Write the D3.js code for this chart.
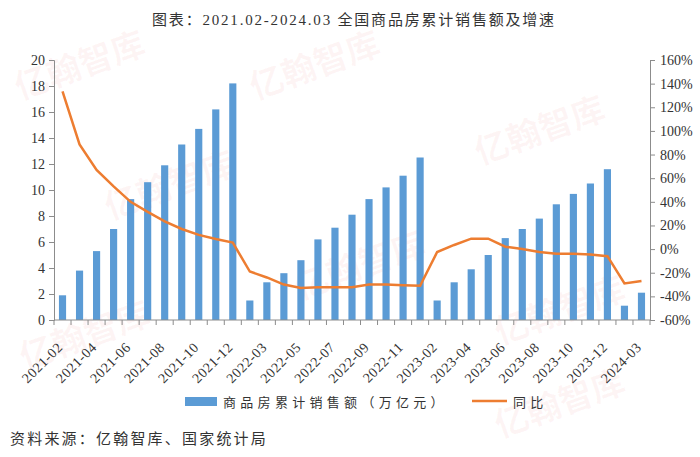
<!DOCTYPE html>
<html>
<head>
<meta charset="utf-8">
<script src="https://cdn.jsdelivr.net/npm/d3@7"></script>
<style>
  body { margin: 0; background: #fff; }
  svg text { font-family: "Liberation Serif", "Noto Sans CJK SC", serif; fill: #333; }
</style>
</head>
<body>
<div class="chart"></div>
<script>
// months shown on the x axis (Jan is merged into Feb each year)
var months = ["2021-02","2021-03","2021-04","2021-05","2021-06","2021-07","2021-08","2021-09","2021-10","2021-11","2021-12",
              "2022-02","2022-03","2022-04","2022-05","2022-06","2022-07","2022-08","2022-09","2022-10","2022-11","2022-12",
              "2023-02","2023-03","2023-04","2023-05","2023-06","2023-07","2023-08","2023-09","2023-10","2023-11","2023-12",
              "2024-02","2024-03"];
// cumulative sales, trillion yuan
var sales = [1.9, 3.8, 5.3, 7.0, 9.3, 10.6, 11.9, 13.5, 14.7, 16.2, 18.2,
             1.5, 2.9, 3.6, 4.6, 6.2, 7.1, 8.1, 9.3, 10.2, 11.1, 12.5,
             1.5, 2.9, 3.9, 5.0, 6.3, 7.0, 7.8, 8.9, 9.7, 10.5, 11.6,
             1.1, 2.1];
// year-on-year growth, %
var yoy = [133.4, 88.5, 67, 53, 40, 31.5, 23.5, 17, 12, 8.5, 5.5,
           -19, -24, -30, -33, -32.3, -32.3, -32.3, -30, -30, -30.5, -31,
           -2.5, 3.5, 8.8, 8.8, 2, 0, -2.5, -4, -4, -4.5, -6,
           -29, -27];
var leftTicks = [0, 2, 4, 6, 8, 10, 12, 14, 16, 18, 20];
var rightTicks = [-60, -40, -20, 0, 20, 40, 60, 80, 100, 120, 140, 160];

var W = 700, H = 457;
var margin = {top: 60, right: 50, bottom: 137, left: 54};
var w = W - margin.left - margin.right,
    h = H - margin.top - margin.bottom;

var svg = d3.select('.chart').append('svg')
  .attr('width', W)
  .attr('height', H);

// faint watermarks
var marks = [[20, 100], [255, 100], [480, 165], [110, 220], [300, 300], [500, 345], [25, 370], [500, 438]];
svg.append('g').selectAll('text')
  .data(marks)
  .enter().append('text')
  .attr('transform', function(d) { return 'translate(' + d[0] + ',' + d[1] + ') rotate(-20)'; })
  .style('font-family', '"Noto Sans CJK SC", sans-serif')
  .style('font-size', '34px')
  .style('font-weight', 'bold')
  .style('fill', 'rgba(225,90,90,0.06)')
  .text('亿翰智库');

svg.append('text')
  .attr('x', 354).attr('y', 25)
  .attr('text-anchor', 'middle')
  .style('font-size', '15px')
  .style('letter-spacing', '1.8px')
  .text('图表：2021.02-2024.03 全国商品房累计销售额及增速');

var g = svg.append('g')
  .attr('transform', 'translate(' + margin.left + ',' + margin.top + ')');

var x = d3.scaleBand()
  .domain(months)
  .range([0, w])
  .paddingInner(0.58)
  .paddingOuter(0.29);

var y = d3.scaleLinear().domain([0, 20]).range([h, 0]);
var y2 = d3.scaleLinear().domain([-60, 160]).range([h, 0]);

// bars
g.selectAll('.bar')
  .data(sales)
  .enter().append('rect')
  .attr('class', 'bar')
  .attr('x', function(d, i) { return x(months[i]); })
  .attr('width', x.bandwidth())
  .attr('y', function(d) { return y(d); })
  .attr('height', function(d) { return h - y(d); })
  .attr('fill', '#5b9bd5');

// line
g.append('path')
  .datum(yoy)
  .attr('d', d3.line()
    .x(function(d, i) { return x(months[i]) + x.bandwidth() / 2; })
    .y(function(d) { return y2(d); }))
  .attr('fill', 'none')
  .attr('stroke', '#ed7d31')
  .attr('stroke-width', 2.5);

// axes
var axisColor = '#8c8c8c';
var step = x.step();

var gl = g.append('g')
  .call(d3.axisLeft(y).tickValues(leftTicks).tickSize(5).tickPadding(4));
var gr = g.append('g')
  .attr('transform', 'translate(' + w + ',0)')
  .call(d3.axisRight(y2).tickValues(rightTicks).tickSize(5).tickPadding(5)
    .tickFormat(function(d) { return d + '%'; }));
[gl, gr].forEach(function(a) {
  a.select('.domain').attr('stroke', axisColor);
  a.selectAll('.tick line').attr('stroke', axisColor);
  a.selectAll('.tick text')
    .style('font-family', '"Liberation Serif", serif')
    .style('font-size', '14px')
    .attr('fill', '#333');
});

// x axis: line plus ticks at band boundaries
var gx = g.append('g').attr('transform', 'translate(0,' + h + ')');
gx.append('line').attr('x1', 0).attr('x2', w).attr('stroke', axisColor);
gx.selectAll('.xt')
  .data(d3.range(months.length + 1))
  .enter().append('line')
  .attr('x1', function(i) { return i * step; })
  .attr('x2', function(i) { return i * step; })
  .attr('y1', 0).attr('y2', 5)
  .attr('stroke', axisColor);
gx.selectAll('.xl')
  .data(months.filter(function(d, i) { return i % 2 === 0; }))
  .enter().append('text')
  .attr('transform', function(d) {
    return 'translate(' + (x(d) + x.bandwidth() / 2 + 1) + ',28) rotate(-45)';
  })
  .attr('text-anchor', 'end')
  .style('font-size', '14px')
  .style('letter-spacing', '0.6px')
  .text(function(d) { return d; });

// legend
var lg = svg.append('g');
lg.append('rect')
  .attr('x', 185).attr('y', 397).attr('width', 32).attr('height', 9)
  .attr('fill', '#5b9bd5');
lg.append('text')
  .attr('x', 223).attr('y', 407)
  .style('font-family', '"Noto Sans CJK SC", sans-serif')
  .style('font-size', '13px')
  .style('letter-spacing', '4.3px')
  .attr('fill', '#444')
  .text('商品房累计销售额（万亿元）');
lg.append('line')
  .attr('x1', 472).attr('x2', 507).attr('y1', 401).attr('y2', 401)
  .attr('stroke', '#ed7d31').attr('stroke-width', 2.5);
lg.append('text')
  .attr('x', 513).attr('y', 407)
  .style('font-family', '"Noto Sans CJK SC", sans-serif')
  .style('font-size', '13px')
  .style('letter-spacing', '4.3px')
  .attr('fill', '#444')
  .text('同比');

svg.append('text')
  .attr('x', 10).attr('y', 444)
  .style('font-family', '"Noto Sans CJK SC", sans-serif')
  .style('font-size', '15px')
  .style('letter-spacing', '2.2px')
  .attr('fill', '#333')
  .text('资料来源：亿翰智库、国家统计局');
</script>
</body>
</html>
